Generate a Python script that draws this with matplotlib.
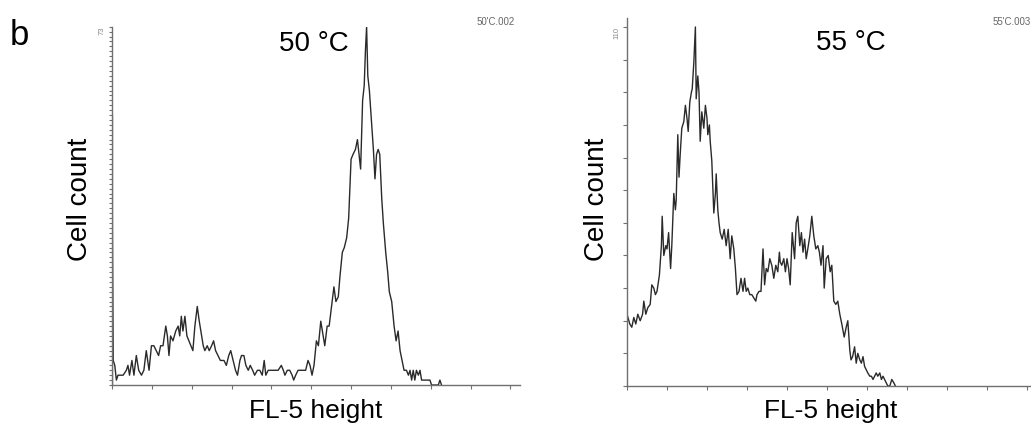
import matplotlib
matplotlib.use("Agg")
import matplotlib.pyplot as plt
import numpy as np

plt.rcParams['font.family'] = ['Liberation Sans', 'DejaVu Sans']

# Histogram for the 50 °C sample: FL-5 channel vs. cell count
ch_50 = [0, 1, 3, 7, 11, 15, 28, 36, 40, 44, 50, 55, 61, 67, 74, 80, 86, 93, 99, 105,
         111, 117, 122, 128, 135, 139, 143, 147, 153, 160, 166, 170, 174, 178, 183, 188,
         193, 198, 203, 208, 214, 219, 223, 229, 233, 239, 244, 250, 255, 260, 266, 272,
         277, 281, 287, 293, 298, 304, 310, 315, 321, 325, 331, 336, 342, 347, 353, 358,
         365, 371, 377, 382, 386, 392, 400, 409, 417, 425, 430, 434, 440, 446, 452, 456,
         461, 467, 473, 480, 486, 492, 497, 502, 507, 513, 518, 524, 528, 534, 540, 545,
         551, 557, 562, 568, 572, 578, 583, 589, 594, 600, 605, 611, 616, 620, 624, 629,
         633, 636, 639, 642, 646, 651, 656, 660, 664, 668, 672, 677, 681, 687, 692, 696,
         702, 708, 713, 718, 723, 728, 733, 739, 744, 748, 752, 756, 760, 764, 769, 773,
         777, 781, 785, 790, 798, 802, 819, 823, 827]
cnt_50 = [55, 30, 5, 4, 1, 2, 2, 3, 4, 2, 5, 2, 6, 3, 2, 3, 7, 3, 8, 8,
          7, 6, 8, 8, 12, 10, 6, 10, 9, 11, 12, 10, 14, 11, 14, 10,
          9, 8, 7, 12, 16, 13, 11, 8, 7, 8, 7, 8, 9, 7, 6, 5,
          5, 5, 4, 6, 7, 5, 3, 2, 5, 6, 6, 4, 3, 4, 3, 2,
          3, 3, 2, 5, 2, 3, 3, 3, 3, 4, 3, 2, 3, 3, 2, 1,
          2, 3, 3, 3, 3, 5, 4, 2, 4, 9, 8, 13, 11, 8, 12, 12,
          16, 20, 17, 18, 22, 27, 28, 30, 34, 46, 47, 48, 50, 47, 44, 58,
          61, 68, 73, 63, 60, 54, 48, 42, 47, 48, 47, 38, 33, 27, 23, 19,
          17, 12, 9, 11, 7, 5, 3, 3, 2, 3, 1, 3, 1, 3, 2, 3,
          1, 1, 1, 1, 1, 0, 0, 1, 0]

# Histogram for the 55 °C sample
ch_55 = [0, 7, 12, 17, 22, 27, 33, 39, 42, 47, 52, 58, 62, 67, 71, 75, 81, 86, 88, 92,
         97, 100, 104, 109, 112, 117, 121, 123, 127, 130, 133, 137, 142, 146, 150, 153,
         157, 161, 163, 167, 171, 173, 177, 180, 183, 187, 192, 196, 200, 202, 206, 208,
         212, 217, 221, 223, 227, 230, 233, 238, 243, 248, 253, 258, 262, 267, 271, 275,
         280, 285, 290, 294, 298, 302, 307, 312, 317, 322, 325, 330, 335, 340, 344, 348,
         352, 357, 362, 367, 372, 377, 381, 383, 387, 392, 396, 400, 404, 408, 413, 419,
         423, 427, 432, 436, 440, 444, 448, 452, 457, 462, 467, 472, 477, 481, 485, 490,
         493, 498, 503, 508, 512, 517, 522, 527, 532, 537, 543, 548, 552, 557, 560, 564,
         569, 573, 577, 582, 586, 590, 594, 598, 602, 607, 611, 615, 619, 623, 627, 632,
         636, 640, 644, 648, 652, 657, 662, 667, 671]
cnt_55 = [22, 19, 18, 21, 19, 22, 20, 22, 26, 22, 24, 25, 31, 30, 28, 29, 34, 43, 52, 40,
          43, 42, 47, 36, 43, 59, 54, 57, 77, 64, 71, 79, 81, 86, 82, 78,
          87, 90, 91, 99, 110, 88, 95, 90, 75, 84, 79, 86, 82, 77, 80, 75,
          69, 53, 59, 65, 54, 50, 47, 45, 48, 43, 48, 39, 46, 42, 36, 28,
          29, 33, 29, 33, 29, 30, 28, 28, 27, 26, 28, 29, 29, 42, 31, 36,
          35, 39, 37, 33, 37, 35, 41, 38, 37, 39, 35, 39, 36, 31, 47, 39,
          50, 52, 43, 47, 41, 45, 39, 42, 46, 52, 46, 42, 43, 41, 37, 43,
          30, 39, 40, 35, 37, 26, 25, 26, 22, 19, 15, 18, 20, 11, 8, 9,
          12, 7, 10, 8, 7, 9, 6, 5, 4, 3, 3, 2, 3, 4, 3, 4,
          2, 3, 2, 1, 0, 0, 2, 1, 0]

x_ticks = list(range(0, 1001, 100))
titles = ['50 °C', '55 °C']
file_tags = ["50'C.002", "55'C.003"]
y_max_labels = ['73', '110']

W, H = 1031, 424
fig = plt.figure(figsize=(W / 100, H / 100), dpi=100)

def px_rect(x0, y_top, x1, y_bot):
    return [x0 / W, 1 - y_bot / H, (x1 - x0) / W, (y_bot - y_top) / H]

ax1 = fig.add_axes(px_rect(112, 26.7, 520, 385))
ax2 = fig.add_axes(px_rect(627, 18.3, 1036.6, 386))

spine_col = '#707070'
line_col = '#2a2a2a'

for ax in (ax1, ax2):
    for s in ('top', 'right'):
        ax.spines[s].set_visible(False)
    for s in ('left', 'bottom'):
        ax.spines[s].set_color(spine_col)
        ax.spines[s].set_linewidth(1.0)
    ax.set_xlim(0, 1024)
    ax.set_xticks(x_ticks)
    ax.set_xticklabels([])
    ax.tick_params(axis='x', direction='out', length=3, width=0.8, color=spine_col)
    ax.tick_params(axis='y', direction='out', width=0.8, color=spine_col, labelleft=False)

ax1.plot(ch_50, cnt_50, color=line_col, lw=1.0)
ax1.plot([0, 0], [0, cnt_50[0]], color=line_col, lw=1.6, solid_capstyle='butt')
ax1.set_ylim(0, 73)
ax1.set_yticks(range(0, 74))
ax1.tick_params(axis='y', length=2)

ax2.plot(ch_55, cnt_55, color=line_col, lw=1.0)
ax2.set_ylim(0, 110 * 367.7 / 359)
ax2.set_yticks(range(0, 111, 10))
ax2.tick_params(axis='y', length=3)

def ftext(x, y, s, **kw):
    fig.text(x / W, 1 - y / H, s, **kw)

ftext(10, 45, 'b', fontsize=25, va='baseline', ha='left')

ftext(314, 44, titles[0], fontsize=20, ha='center', va='center')
ftext(851, 43, titles[1], fontsize=20, ha='center', va='center')

ftext(80, 199, 'Cell count', fontsize=20, rotation=90, ha='center', va='center')
ftext(597, 199, 'Cell count', fontsize=20, rotation=90, ha='center', va='center')

ftext(316, 411, 'FL-5 height', fontsize=19, ha='center', va='center')
ftext(831, 411, 'FL-5 height', fontsize=19, ha='center', va='center')

ftext(477, 22, file_tags[0], fontsize=7, color='#666666', ha='left', va='center')
ftext(993, 22, file_tags[1], fontsize=7, color='#666666', ha='left', va='center')

ftext(102, 31, y_max_labels[0], fontsize=5.5, color='#888888', rotation=90, ha='center', va='center')
ftext(617, 33, y_max_labels[1], fontsize=5.5, color='#888888', rotation=90, ha='center', va='center')

fig.savefig('out.png', dpi=100)
